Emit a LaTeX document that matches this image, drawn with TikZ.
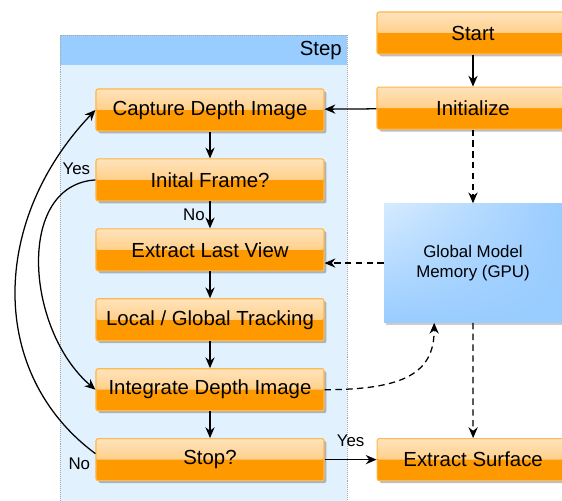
\documentclass[tikz,border=0pt]{standalone}
\usepackage{fontspec}
\setmainfont{Liberation Sans}
\usetikzlibrary{positioning,arrows.meta,shadows,shadings}
\definecolor{boxorange}{HTML}{FF9900}
\definecolor{boxtop}{HTML}{FFE3BC}
\definecolor{boxmid}{HTML}{FFBC57}
\definecolor{boxedge}{HTML}{FFB84D}
\definecolor{stepbody}{HTML}{E2F1FE}
\definecolor{stephead}{HTML}{99CCFF}
\definecolor{memlight}{HTML}{D6EBFF}
\definecolor{memblue}{HTML}{99CCFF}

\begin{document}
\begin{tikzpicture}[x=0.25mm,y=-0.25mm,font=\fontsize{14.5}{16}\selectfont,
   >={Stealth[length=2.7mm,width=2.3mm]},
   box/.style={draw=boxedge,line width=0.8pt,rounded corners=1.5pt,fill=boxorange,
     minimum width=57mm,minimum height=10.5mm,inner sep=0pt,
     drop shadow={shadow xshift=0.6mm,shadow yshift=-0.6mm,fill=black,opacity=0.25},
     path picture={\shade[top color=boxtop,bottom color=boxmid]
       (path picture bounding box.north west) rectangle (path picture bounding box.east);}},
   wbox/.style={box,minimum width=48mm},
   flow/.style={->,line width=0.9pt},
   link/.style={->,line width=0.9pt,dash pattern=on 1.6mm off 1.1mm},
   lbl/.style={font=\fontsize{12}{14}\selectfont}]
  \path[use as bounding box,clip] (0,0) rectangle (562,501);
  \fill[white] (0,0) rectangle (562,501);
  % step lane
  \fill[stepbody] (60,35) rectangle (347,510);
  \fill[stephead] (60,35) rectangle (347,65);
  \draw[gray!70,densely dotted] (60,510) -- (60,35) -- (347,35) -- (347,510);
  \node[anchor=east,inner sep=0pt] (steplbl) at (342,51) {Step};
  % left column
  \node[box] (cap) at (210,110) {Capture Depth Image};
  \node[below=6.7mm of cap,box] (frame) {Inital Frame?};
  \node[below=6.7mm of frame,box] (last) {Extract Last View};
  \node[below=6.7mm of last,box] (track) {Local / Global Tracking};
  \node[below=6.7mm of track,box] (integ) {Integrate Depth Image};
  \node[below=6.7mm of integ,box] (stop) {Stop?};
  % right column
  \node[wbox] (start) at (473,33) {Start};
  \node[below=8mm of start,wbox] (init) {Initialize};
  \node[below=18.4mm of init,draw=none,minimum width=44.5mm,minimum height=29.75mm,align=center,
    upper left=memlight,upper right=memblue,lower left=memblue,lower right=memblue,
    drop shadow={shadow xshift=0.6mm,shadow yshift=-0.6mm,fill=black,opacity=0.2},
    font=\fontsize{12}{14.2}\selectfont] (mem) {Global Model\\Memory (GPU)};
  \node[right=13mm of stop,wbox] (surf) {Extract Surface};
  % connectors
  \draw[flow] (start) -- (init);
  \draw[flow] (init) -- (cap);
  \draw[flow] (cap) -- (frame);
  \draw[flow] (frame) -- node[lbl,left] {No} (last);
  \draw[flow] (last) -- (track);
  \draw[flow] (track) -- (integ);
  \draw[flow] (integ) -- (stop);
  \draw[flow] (stop) -- node[lbl,above,yshift=2mm] {Yes} (surf);
  \draw[link] (init) -- (mem);
  \draw[link] (mem.west) -- (mem.west -| last.east);
  \draw[link] (mem) -- (surf);
  \draw[link] (integ.east) .. controls +(80,0) and +(0,50) .. (mem.237);
  \draw[flow] (frame.west) node[lbl,above left] {Yes}
    .. controls +(-80,5) and +(-70,-60) .. (integ.west);
  \draw[flow] ([yshift=1.5mm]stop.west) node[lbl,left,yshift=-2.5mm] {No}
    .. controls +(-108,-80) and +(-105,110) .. (cap.west);
\end{tikzpicture}
\end{document}
